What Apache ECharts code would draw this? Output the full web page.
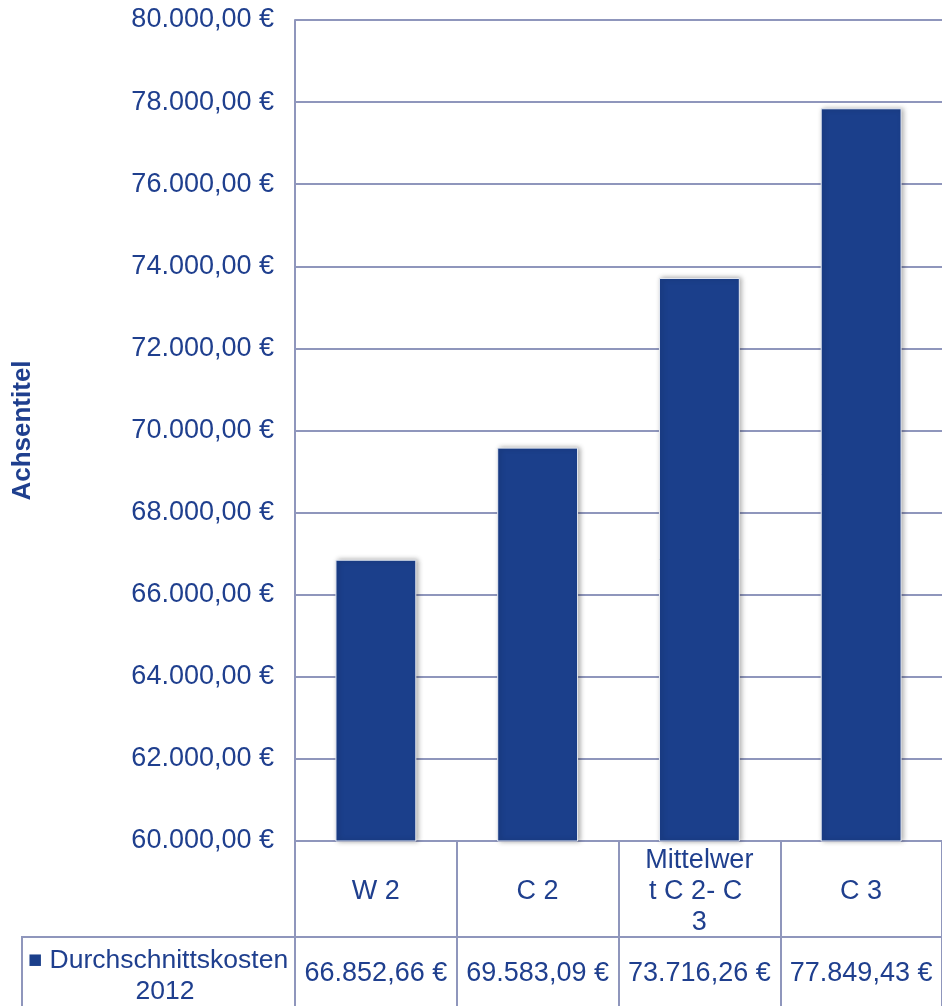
<!DOCTYPE html>
<html>
<head>
<meta charset="utf-8">
<script src="https://cdn.jsdelivr.net/npm/echarts@6/dist/echarts.min.js"></script>
<style>
  html, body { margin: 0; padding: 0; background: #ffffff; }
  #chart { width: 942px; height: 1006px; }
</style>
</head>
<body>
<div id="chart"></div>
<script>
// Average costs per grade, 2012
const categories = ['W 2', 'C 2', 'Mittelwert C 2- C 3', 'C 3'];
const seriesName = 'Durchschnittskosten 2012';
const costs = [66852.66, 69583.09, 73716.26, 77849.43];
const axisMin = 60000;
const axisMax = 80000;
const axisStep = 2000;
const axisTitle = 'Achsentitel';

const textColor = '#1F3F8E';
const barColor = '#1B3F8B';
const lineColor = '#8F96BC';
const fontFamily = '"Liberation Sans", Arial, sans-serif';
const fontSize = 27;

// German currency format: 77.849,43 €
function euro(v) {
  const parts = Number(v).toFixed(2).split('.');
  return parts[0].replace(/\B(?=(\d{3})+(?!\d))/g, '.') + ',' + parts[1] + ' €';
}

const chart = echarts.init(document.getElementById('chart'), null, { renderer: 'canvas' });

const option = {
  backgroundColor: '#ffffff',
  animation: false,
  textStyle: { fontFamily: fontFamily, color: textColor },
  grid: { left: 295, right: 0, top: 20, bottom: 165, containLabel: false, outerBoundsMode: 'none' },
  legend: {
    left: 18,
    top: 940,
    icon: 'none',
    itemWidth: 0,
    itemHeight: 0,
    selectedMode: false,
    data: [seriesName],
    formatter: function (name) {
      const words = name.split(' ');
      return '{m|■} {t|' + words[0] + '}\n{c|' + words.slice(1).join(' ') + '}';
    },
    textStyle: {
      color: textColor,
      fontFamily: fontFamily,
      fontSize: 26.5,
      lineHeight: 31,
      rich: {
        m: { color: barColor, fontSize: 15, fontFamily: '"DejaVu Sans", sans-serif', lineHeight: 31 },
        t: { color: textColor, fontSize: 26.5, fontFamily: fontFamily, lineHeight: 31 },
        c: { color: textColor, fontSize: 26.5, fontFamily: fontFamily, lineHeight: 31, width: 274, align: 'center' }
      }
    }
  },
  xAxis: [
    {
      type: 'category',
      data: categories,
      position: 'bottom',
      boundaryGap: true,
      axisLine: { show: true, lineStyle: { color: lineColor, width: 2 } },
      axisTick: { show: true, interval: 0, length: 165, lineStyle: { color: lineColor, width: 2 } },
      axisLabel: {
        interval: 0,
        color: textColor,
        fontFamily: fontFamily,
        fontSize: fontSize,
        lineHeight: 31,
        margin: 51,
        verticalAlign: 'middle',
        align: 'center',
        width: 112,
        overflow: 'breakAll'
      },
      splitLine: { show: false }
    },
    {
      type: 'category',
      data: costs.map(euro),
      position: 'bottom',
      offset: 96,
      boundaryGap: true,
      axisLine: { show: true, lineStyle: { color: lineColor, width: 2 } },
      axisTick: { show: false },
      axisLabel: {
        interval: 0,
        color: textColor,
        fontFamily: fontFamily,
        fontSize: fontSize,
        margin: 37,
        verticalAlign: 'middle',
        align: 'center'
      },
      splitLine: { show: false }
    }
  ],
  yAxis: {
    type: 'value',
    min: axisMin,
    max: axisMax,
    interval: axisStep,
    name: axisTitle,
    nameLocation: 'middle',
    nameRotate: 90,
    nameGap: 259,
    nameTextStyle: { color: textColor, fontFamily: fontFamily, fontSize: 26, fontWeight: 'bold' },
    axisLine: { show: true, lineStyle: { color: lineColor, width: 2 } },
    axisTick: { show: false },
    axisLabel: {
      color: textColor,
      fontFamily: fontFamily,
      fontSize: fontSize,
      margin: 21,
      formatter: euro
    },
    splitLine: { show: true, lineStyle: { color: lineColor, width: 2 } }
  },
  series: [
    {
      name: seriesName,
      type: 'bar',
      xAxisIndex: 0,
      data: costs,
      barWidth: '50%',
      itemStyle: {
        color: barColor,
        borderColor: '#e8ecf4',
        borderWidth: 1,
        shadowBlur: 5,
        shadowOffsetX: 2,
        shadowOffsetY: 0,
        shadowColor: 'rgba(0,0,0,0.35)'
      }
    }
  ],
  // Border of the legend cell in the data table
  graphic: [
    {
      type: 'polyline',
      silent: true,
      shape: { points: [[22, 1008], [22, 937], [296, 937]] },
      style: { stroke: lineColor, lineWidth: 2, fill: null }
    }
  ]
};

chart.setOption(option);
</script>
</body>
</html>
